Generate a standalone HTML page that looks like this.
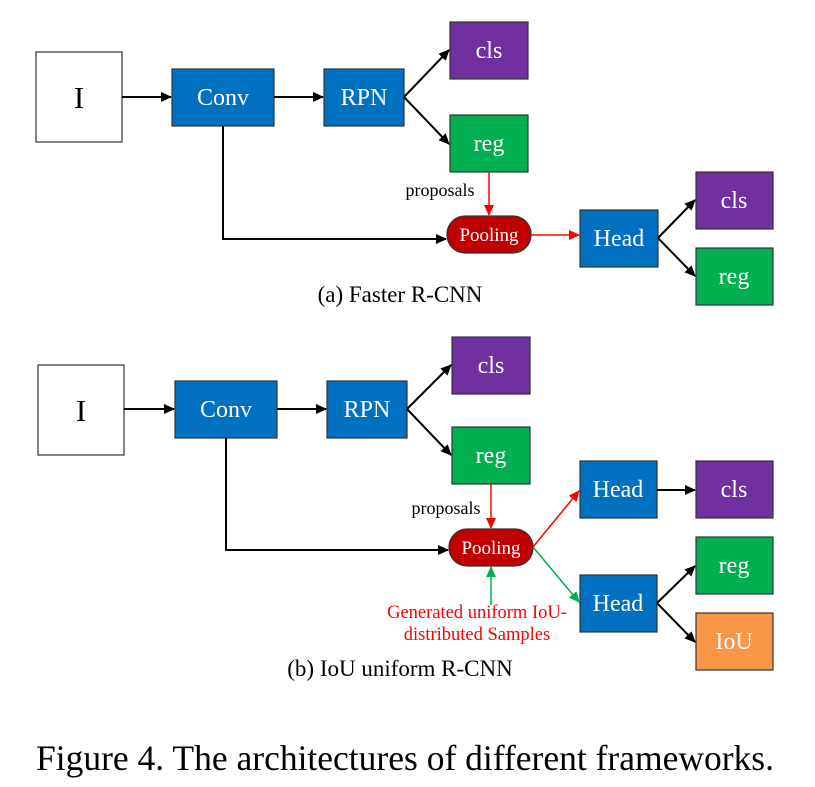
<!DOCTYPE html>
<html><head><style>
body{margin:0;background:#fff;width:815px;height:782px;overflow:hidden}
</style></head><body>
<svg width="815" height="782" viewBox="0 0 815 782" font-family="Liberation Serif, serif">
<defs>
<marker id="ak" markerWidth="11" markerHeight="10" refX="10" refY="5" orient="auto" markerUnits="userSpaceOnUse"><path d="M0,0 L11,5 L0,10 z" fill="#000"/></marker>
<marker id="ar" markerWidth="11" markerHeight="10" refX="10" refY="5" orient="auto" markerUnits="userSpaceOnUse"><path d="M0,0 L11,5 L0,10 z" fill="#f00"/></marker>
<marker id="ag" markerWidth="11" markerHeight="10" refX="10" refY="5" orient="auto" markerUnits="userSpaceOnUse"><path d="M0,0 L11,5 L0,10 z" fill="#00b050"/></marker>
</defs>
<g stroke="#333" stroke-width="1.2">
<rect x="36" y="52" width="86" height="90" fill="#fff"/>
<rect x="172" y="69" width="102" height="57" fill="#0070c0"/>
<rect x="324" y="69" width="80" height="57" fill="#0070c0"/>
<rect x="450" y="22" width="78" height="57" fill="#7030a0"/>
<rect x="450" y="115" width="78" height="57" fill="#00b050"/>
<rect x="447" y="216" width="84" height="37" rx="18" fill="#c00000"/>
<rect x="580" y="210" width="78" height="57" fill="#0070c0"/>
<rect x="696" y="172" width="77" height="57" fill="#7030a0"/>
<rect x="696" y="248" width="77" height="57" fill="#00b050"/>
<rect x="38" y="365" width="86" height="90" fill="#fff"/>
<rect x="175" y="381" width="102" height="57" fill="#0070c0"/>
<rect x="327" y="381" width="80" height="57" fill="#0070c0"/>
<rect x="452" y="337" width="78" height="57" fill="#7030a0"/>
<rect x="452" y="427" width="78" height="57" fill="#00b050"/>
<rect x="449" y="529" width="84" height="37" rx="18" fill="#c00000"/>
<rect x="580" y="461" width="77" height="57" fill="#0070c0"/>
<rect x="696" y="461" width="77" height="57" fill="#7030a0"/>
<rect x="580" y="575" width="77" height="57" fill="#0070c0"/>
<rect x="696" y="537" width="77" height="57" fill="#00b050"/>
<rect x="696" y="613" width="77" height="57" fill="#f79646"/>
</g>
<g stroke="#000" stroke-width="2" fill="none" marker-end="url(#ak)">
<line x1="122" y1="97" x2="171" y2="97"/>
<line x1="274" y1="97" x2="323" y2="97"/>
<line x1="404" y1="97" x2="449" y2="50"/>
<line x1="404" y1="97" x2="449" y2="144"/>
<polyline points="223,126 223,239 446,239"/>
<line x1="658" y1="238" x2="695" y2="200"/>
<line x1="658" y1="238" x2="695" y2="276"/>
<line x1="124" y1="409" x2="174" y2="409"/>
<line x1="277" y1="409" x2="326" y2="409"/>
<line x1="407" y1="409" x2="451" y2="365"/>
<line x1="407" y1="409" x2="451" y2="455"/>
<polyline points="226,438 226,550 448,550"/>
<line x1="657" y1="490" x2="695" y2="490"/>
<line x1="657" y1="603" x2="695" y2="566"/>
<line x1="657" y1="603" x2="695" y2="642"/>
</g>
<g stroke="#f00" stroke-width="1.5" fill="none" marker-end="url(#ar)">
<line x1="489" y1="172" x2="489" y2="215"/>
<line x1="531" y1="235" x2="579" y2="235"/>
<line x1="491" y1="484" x2="491" y2="528"/>
<line x1="533" y1="547" x2="579" y2="491"/>
</g>
<g stroke="#00b050" stroke-width="1.5" fill="none" marker-end="url(#ag)">
<line x1="533" y1="547" x2="579" y2="602"/>
<line x1="491" y1="605" x2="491" y2="567"/>
</g>
<g fill="#fff" font-size="24" text-anchor="middle">
<text x="223" y="105">Conv</text><text x="364" y="105">RPN</text>
<text x="489" y="58">cls</text><text x="489" y="151">reg</text>
<text x="619" y="246">Head</text><text x="734" y="208">cls</text><text x="734" y="284">reg</text>
<text x="489" y="241" font-size="19">Pooling</text>
<text x="226" y="417">Conv</text><text x="367" y="417">RPN</text>
<text x="491" y="373">cls</text><text x="491" y="463">reg</text>
<text x="618" y="497">Head</text><text x="734" y="497">cls</text>
<text x="618" y="611">Head</text><text x="734" y="573">reg</text><text x="734" y="649">IoU</text>
<text x="491" y="554" font-size="19">Pooling</text>
</g>
<g fill="#000" text-anchor="middle">
<text x="79" y="108" font-size="31">I</text>
<text x="81" y="421" font-size="31">I</text>
<text x="440" y="196" font-size="18">proposals</text>
<text x="446" y="514" font-size="18">proposals</text>
<text x="400" y="302" font-size="23">(a) Faster R-CNN</text>
<text x="400" y="676" font-size="23">(b) IoU uniform R-CNN</text>
<text x="405" y="770" font-size="35.5">Figure 4. The architectures of different frameworks.</text>
</g>
<g fill="#f00" font-size="18.5" text-anchor="middle">
<text x="477" y="618">Generated uniform IoU-</text>
<text x="477" y="640">distributed Samples</text>
</g>
</svg>
</body></html>
